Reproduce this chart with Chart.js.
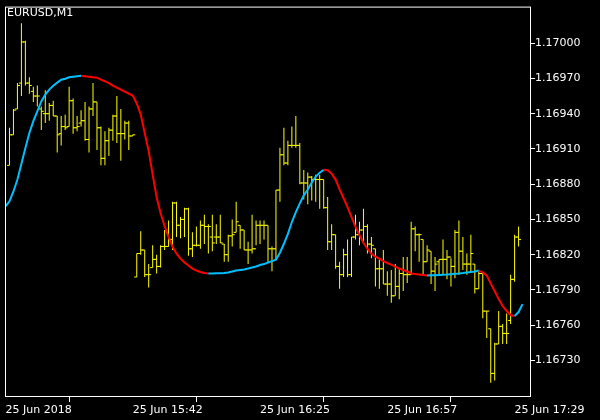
<!DOCTYPE html>
<html>
<head>
<meta charset="utf-8">
<script src="https://cdn.jsdelivr.net/npm/chart.js@4/dist/chart.umd.min.js"></script>
<style>
  html, body { margin: 0; padding: 0; background: #000; }
  canvas { display: block; }
</style>
</head>
<body>
<canvas id="chart" width="600" height="420"></canvas>
<script>
// EURUSD M1, one bar per minute, bar 0 is the first one drawn
const symbolTitle = "EURUSD,M1";

const highs = [
  1.16928, 1.16944, 1.16966, 1.17017, 1.17002, 1.16971, 1.16963, 1.16964, 1.16946, 1.16960,
  1.16949, 1.16951, 1.16938, 1.16938, 1.16939, 1.16963, 1.16953, 1.16938, 1.16943, 1.16950,
  1.16946, 1.16966, 1.16950, 1.16929, 1.16925, 1.16928, 1.16939, 1.16955, 1.16944, 1.16934,
  1.16934, 1.16922, 1.16821, 1.16840, 1.16824, 1.16812, 1.16828, 1.16820, 1.16828, 1.16841,
  1.16849, 1.16865, 1.16865, 1.16852, 1.16860, 1.16860, 1.16839, 1.16844, 1.16849, 1.16854,
  1.16846, 1.16854, 1.16846, 1.16854, 1.16829, 1.16837, 1.16850, 1.16865, 1.16845, 1.16841,
  1.16831, 1.16854, 1.16849, 1.16849, 1.16849, 1.16845, 1.16827, 1.16875, 1.16911, 1.16928,
  1.16917, 1.16929, 1.16938, 1.16915, 1.16892, 1.16890, 1.16887, 1.16888, 1.16888, 1.16884,
  1.16869, 1.16846, 1.16837, 1.16814, 1.16825, 1.16833, 1.16835, 1.16854, 1.16848, 1.16859,
  1.16846, 1.16835, 1.16825, 1.16816, 1.16824, 1.16806, 1.16807, 1.16812, 1.16808, 1.16818,
  1.16818, 1.16848, 1.16844, 1.16838, 1.16833, 1.16828, 1.16823, 1.16818, 1.16816, 1.16833,
  1.16824, 1.16817, 1.16841, 1.16849, 1.16835, 1.16821, 1.16837, 1.16812, 1.16806, 1.16804,
  1.16772, 1.16757, 1.16745, 1.16772, 1.16761, 1.16770, 1.16803, 1.16837, 1.16844
];
const lows = [
  1.16896, 1.16922, 1.16944, 1.16955, 1.16964, 1.16957, 1.16950, 1.16946, 1.16926, 1.16932,
  1.16934, 1.16938, 1.16907, 1.16913, 1.16926, 1.16929, 1.16923, 1.16925, 1.16929, 1.16917,
  1.16907, 1.16938, 1.16909, 1.16896, 1.16896, 1.16904, 1.16917, 1.16915, 1.16900, 1.16918,
  1.16909, 1.16921, 1.16801, 1.16820, 1.16801, 1.16792, 1.16809, 1.16804, 1.16809, 1.16824,
  1.16827, 1.16824, 1.16835, 1.16834, 1.16835, 1.16819, 1.16818, 1.16827, 1.16825, 1.16829,
  1.16821, 1.16823, 1.16829, 1.16830, 1.16814, 1.16814, 1.16827, 1.16839, 1.16825, 1.16824,
  1.16812, 1.16821, 1.16828, 1.16829, 1.16833, 1.16814, 1.16806, 1.16816, 1.16865, 1.16896,
  1.16896, 1.16911, 1.16911, 1.16880, 1.16867, 1.16863, 1.16866, 1.16865, 1.16859, 1.16859,
  1.16824, 1.16824, 1.16808, 1.16791, 1.16801, 1.16801, 1.16801, 1.16833, 1.16828, 1.16829,
  1.16821, 1.16817, 1.16793, 1.16791, 1.16795, 1.16785, 1.16779, 1.16785, 1.16782, 1.16789,
  1.16796, 1.16803, 1.16823, 1.16814, 1.16803, 1.16814, 1.16795, 1.16789, 1.16803, 1.16803,
  1.16799, 1.16793, 1.16800, 1.16803, 1.16807, 1.16803, 1.16806, 1.16787, 1.16791, 1.16766,
  1.16749, 1.16711, 1.16713, 1.16744, 1.16744, 1.16744, 1.16761, 1.16797, 1.16827
];
const opens = [
  1.16896, 1.16922, 1.16944, 1.16966, 1.17001, 1.16966, 1.16959, 1.16955, 1.16944, 1.16940,
  1.16940, 1.16947, 1.16938, 1.16923, 1.16929, 1.16929, 1.16951, 1.16928, 1.16932, 1.16934,
  1.16918, 1.16944, 1.16950, 1.16928, 1.16902, 1.16917, 1.16926, 1.16938, 1.16923, 1.16923,
  1.16932, 1.16921, 1.16801, 1.16821, 1.16824, 1.16803, 1.16809, 1.16816, 1.16810, 1.16827,
  1.16827, 1.16833, 1.16864, 1.16845, 1.16850, 1.16859, 1.16825, 1.16828, 1.16828, 1.16845,
  1.16844, 1.16835, 1.16835, 1.16835, 1.16829, 1.16820, 1.16836, 1.16839, 1.16845, 1.16841,
  1.16824, 1.16824, 1.16825, 1.16845, 1.16845, 1.16845, 1.16825, 1.16825, 1.16875, 1.16905,
  1.16898, 1.16913, 1.16913, 1.16913, 1.16881, 1.16881, 1.16886, 1.16884, 1.16884, 1.16884,
  1.16860, 1.16831, 1.16837, 1.16810, 1.16803, 1.16820, 1.16803, 1.16835, 1.16837, 1.16841,
  1.16844, 1.16829, 1.16825, 1.16808, 1.16808, 1.16795, 1.16795, 1.16785, 1.16793, 1.16804,
  1.16803, 1.16803, 1.16842, 1.16837, 1.16833, 1.16814, 1.16823, 1.16806, 1.16814, 1.16816,
  1.16816, 1.16818, 1.16810, 1.16839, 1.16823, 1.16812, 1.16812, 1.16812, 1.16791, 1.16804,
  1.16772, 1.16757, 1.16719, 1.16744, 1.16759, 1.16753, 1.16764, 1.16799, 1.16835
];
const closes = [
  1.16922, 1.16943, 1.16964, 1.17001, 1.16966, 1.16964, 1.16955, 1.16955, 1.16942, 1.16940,
  1.16947, 1.16938, 1.16922, 1.16929, 1.16928, 1.16951, 1.16928, 1.16929, 1.16934, 1.16918,
  1.16944, 1.16950, 1.16928, 1.16902, 1.16917, 1.16926, 1.16938, 1.16923, 1.16923, 1.16932,
  1.16921, 1.16922, 1.16821, 1.16824, 1.16803, 1.16803, 1.16816, 1.16810, 1.16827, 1.16827,
  1.16833, 1.16864, 1.16845, 1.16850, 1.16859, 1.16825, 1.16828, 1.16828, 1.16845, 1.16844,
  1.16844, 1.16830, 1.16835, 1.16830, 1.16820, 1.16836, 1.16837, 1.16848, 1.16841, 1.16824,
  1.16824, 1.16825, 1.16845, 1.16845, 1.16845, 1.16825, 1.16825, 1.16875, 1.16905, 1.16898,
  1.16913, 1.16913, 1.16913, 1.16881, 1.16881, 1.16886, 1.16884, 1.16884, 1.16884, 1.16860,
  1.16831, 1.16837, 1.16810, 1.16803, 1.16820, 1.16803, 1.16835, 1.16837, 1.16841, 1.16844,
  1.16829, 1.16828, 1.16808, 1.16808, 1.16795, 1.16795, 1.16785, 1.16793, 1.16804, 1.16803,
  1.16803, 1.16842, 1.16837, 1.16837, 1.16814, 1.16824, 1.16806, 1.16812, 1.16816, 1.16816,
  1.16818, 1.16810, 1.16839, 1.16823, 1.16812, 1.16812, 1.16821, 1.16791, 1.16804, 1.16772,
  1.16772, 1.16719, 1.16744, 1.16759, 1.16753, 1.16753, 1.16799, 1.16835, 1.16833
];

// smoothed average, drawn one bar ahead (starts at bar -1, ends at bar 129)
const maStart = -1;
const maValues = [
  1.168612,
  1.168654, 1.168738, 1.168839, 1.168974, 1.169108, 1.169235, 1.169336, 1.169420, 1.169504, 1.169563,
  1.169605, 1.169638, 1.169664, 1.169689, 1.169697, 1.169710, 1.169714, 1.169718, 1.169722, 1.169718,
  1.169714, 1.169710, 1.169706, 1.169689, 1.169676, 1.169659, 1.169638, 1.169622, 1.169605, 1.169588,
  1.169571, 1.169554, 1.169487, 1.169394, 1.169235, 1.169083, 1.168881, 1.168688, 1.168553, 1.168444,
  1.168351, 1.168267, 1.168208, 1.168166, 1.168133, 1.168108, 1.168082, 1.168065, 1.168053, 1.168044,
  1.168040, 1.168040, 1.168041, 1.168042, 1.168044, 1.168049, 1.168057, 1.168065, 1.168070, 1.168074,
  1.168082, 1.168091, 1.168099, 1.168112, 1.168120, 1.168133, 1.168145, 1.168158, 1.168217, 1.168293,
  1.168377, 1.168478, 1.168562, 1.168637, 1.168705, 1.168755, 1.168814, 1.168865, 1.168898, 1.168923,
  1.168919, 1.168890, 1.168839, 1.168755, 1.168680, 1.168604, 1.168520, 1.168436, 1.168368, 1.168301,
  1.168251, 1.168208, 1.168183, 1.168166, 1.168145, 1.168129, 1.168116, 1.168099, 1.168082, 1.168070,
  1.168057, 1.168040, 1.168036, 1.168032, 1.168028, 1.168023, 1.168024, 1.168025, 1.168027, 1.168029,
  1.168031, 1.168034, 1.168037, 1.168040, 1.168044, 1.168049, 1.168053, 1.168057, 1.168065, 1.168049,
  1.168023, 1.167956, 1.167889, 1.167822, 1.167763, 1.167721, 1.167687, 1.167679, 1.167712, 1.167779
];

const timeTickBars = [-1, 31, 63, 95, 127];
const timeTickLabels = ["25 Jun 2018", "25 Jun 15:42", "25 Jun 16:25", "25 Jun 16:57", "25 Jun 17:29"];
const priceTicks = [1.16730, 1.16760, 1.16790, 1.16820, 1.16850, 1.16880, 1.16910, 1.16940, 1.16970, 1.17000];

const barColor = "#ffff00";
const maUpColor = "#00bfff";
const maDownColor = "#ff0000";
const fontSpec = { family: "'DejaVu Sans', sans-serif", size: 11 };

const terminalLook = {
    id: "terminalLook",
    beforeDraw(chart) {
        const ctx = chart.ctx
        ctx.save()
        ctx.fillStyle = "#000"
        ctx.fillRect(0, 0, chart.width, chart.height)
        ctx.restore()
    },
    afterDraw(chart) {
        const { ctx, chartArea } = chart
        ctx.save()
        ctx.strokeStyle = "#fff"
        ctx.lineWidth = 1
        ctx.strokeRect(chartArea.left + 0.5, chartArea.top + 0.5,
            chartArea.right - chartArea.left - 1, chartArea.bottom - chartArea.top - 1)
        ctx.fillStyle = "#fff"
        ctx.font = "11px 'DejaVu Sans'"
        ctx.textBaseline = "alphabetic"
        ctx.fillText(symbolTitle, 7, 16)
        ctx.restore()
    }
}

const barIdx = highs.map((_, i) => i)

new Chart(document.getElementById("chart"), {
    type: "scatter",
    data: {
        datasets: [
            {
                type: "line",
                data: maValues.map((v, k) => ({ x: maStart + k, y: v })),
                borderColor: maUpColor,
                borderWidth: 2,
                pointRadius: 0,
                tension: 0,
                segment: {
                    borderColor: (c) => c.p1.parsed.y < c.p0.parsed.y ? maDownColor : maUpColor
                },
                order: 0
            },
            {
                type: "bar",
                data: barIdx.map(i => ({ x: i, y: [lows[i], highs[i]] })),
                backgroundColor: barColor,
                borderWidth: 0,
                barThickness: 1,
                inflateAmount: 0,
                order: 3
            },
            {
                type: "scatter",
                data: barIdx.map(i => ({ x: i, y: opens[i] })),
                pointStyle: "dash",
                rotation: 180,
                radius: 2.5,
                borderColor: barColor,
                backgroundColor: barColor,
                borderWidth: 1,
                order: 2
            },
            {
                type: "scatter",
                data: barIdx.map(i => ({ x: i, y: closes[i] })),
                pointStyle: "dash",
                rotation: 0,
                radius: 2.5,
                borderColor: barColor,
                backgroundColor: barColor,
                borderWidth: 1,
                order: 1
            }
        ]
    },
    options: {
        responsive: false,
        animation: false,
        events: [],
        layout: { padding: { left: 2, top: 2, right: 0, bottom: 0 } },
        plugins: {
            legend: { display: false },
            tooltip: { enabled: false }
        },
        scales: {
            x: {
                type: "linear",
                position: "bottom",
                min: -1.125,
                max: 131.125,
                offset: false,
                afterBuildTicks: (scale) => {
                    scale.ticks = timeTickBars.map(v => ({ value: v }))
                },
                afterFit: (scale) => { scale.height = 23 },
                ticks: {
                    callback: (v, i) => timeTickLabels[i],
                    align: "start",
                    autoSkip: false,
                    maxRotation: 0,
                    color: "#fff",
                    font: fontSpec,
                    padding: 2
                },
                grid: { drawOnChartArea: false, drawTicks: true, tickLength: 5, color: "#fff" },
                border: { display: false }
            },
            y: {
                type: "linear",
                position: "right",
                min: 1.166989,
                max: 1.170311,
                afterBuildTicks: (scale) => {
                    scale.ticks = priceTicks.map(v => ({ value: v }))
                },
                afterFit: (scale) => { scale.width = 69 },
                ticks: {
                    callback: (v) => v.toFixed(5),
                    color: "#fff",
                    font: fontSpec,
                    padding: 0,
                    autoSkip: false
                },
                grid: { drawOnChartArea: false, drawTicks: true, tickLength: 4, color: "#fff" },
                border: { display: false }
            }
        }
    },
    plugins: [terminalLook]
})
</script>
</body>
</html>
